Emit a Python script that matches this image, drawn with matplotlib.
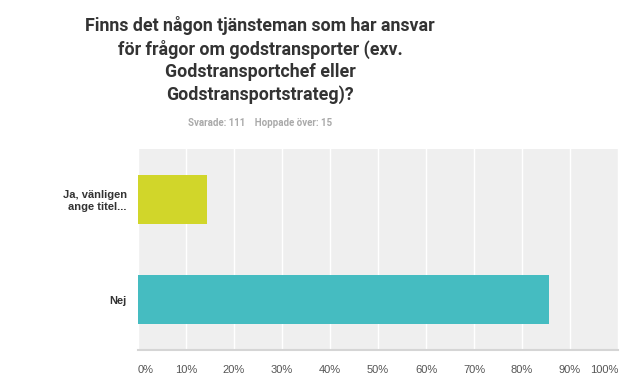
import matplotlib
matplotlib.use("Agg")
import matplotlib.pyplot as plt
import numpy as np

plt.rcParams['font.family'] = ['Liberation Sans', 'DejaVu Sans']

title = "Finns det någon tjänsteman som har ansvar\nför frågor om godstransporter (exv.\nGodstransportchef eller\nGodstransportstrateg)?"
subtitle = "Svarade: 111    Hoppade över: 15"
categories = ["Ja, vänligen\nange titel...", "Nej"]
values = [14.41, 85.59]
colors = ["#d1d62a", "#45bcc1"]
ticks = [0, 10, 20, 30, 40, 50, 60, 70, 80, 90, 100]
tick_labels = [f"{t}%" for t in ticks]

fig = plt.figure(figsize=(6.44, 3.83), dpi=100)
ax = fig.add_axes([138/644, 1 - 350/383, 480/644, 201/383])
ax.set_facecolor("#efefef")

y = np.arange(len(categories))
ax.barh(y, values, height=0.49, color=colors, zorder=2)
ax.set_xlim(0, 100)
ax.set_ylim(1.5, -0.5)
ax.set_xticks(ticks)
ax.set_xticklabels(tick_labels, color="#555555", fontsize=8)
xl = ax.get_xticklabels()
xl[0].set_ha("left")
xl[-1].set_ha("right")
ax.set_yticks(y)
ax.set_yticklabels(categories, fontsize=8, fontweight="bold", color="#333333")
ax.tick_params(axis='x', length=0, pad=11)
ax.tick_params(axis='y', length=0, pad=8)
ax.grid(axis='x', color="white", linewidth=1, zorder=1)
for s in ["top", "right", "left"]:
    ax.spines[s].set_visible(False)
ax.spines["bottom"].set_color("#d5d5d5")
ax.spines["bottom"].set_linewidth(1.5)

fig.text(260/644, 1 - 16/383, title, ha="center", va="top", fontsize=12.8,
         fontweight="bold", color="#333333", linespacing=1.3,
         family=["Roboto", "DejaVu Sans"])
fig.text(260/644, 1 - 123/383, subtitle, ha="center", va="center", fontsize=7,
         fontweight="bold", color="#aaaaaa", family=["Roboto", "DejaVu Sans"])

fig.savefig("out.png", dpi=100)
